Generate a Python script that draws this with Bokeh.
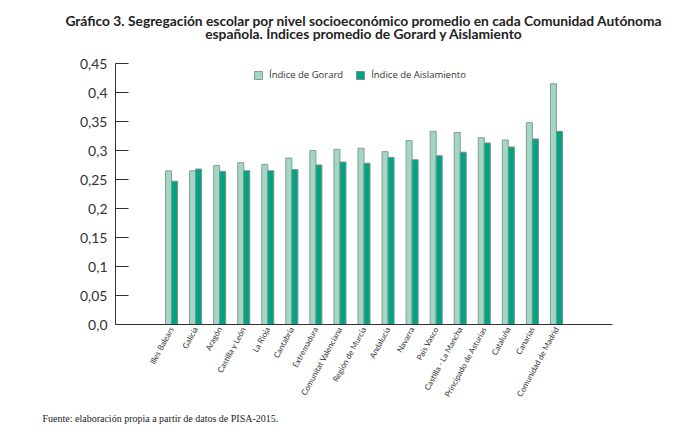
from bokeh.plotting import figure
from bokeh.models import ColumnDataSource, FactorRange, Range1d, Legend, LegendItem, FixedTicker, Title
from bokeh.transform import dodge
from bokeh.embed import file_html
from bokeh.resources import INLINE

regions = ["Illes Balears", "Galicia", "Aragón", "Castilla y León", "La Rioja", "Cantabria",
           "Extremadura", "Comunitat Valenciana", "Región de Murcia", "Andalucía", "Navarra",
           "País Vasco", "Castilla - La Mancha", "Principado de Asturias", "Cataluña",
           "Canarias", "Comunidad de Madrid"]
gorard = [0.265, 0.265, 0.274, 0.279, 0.276, 0.287, 0.300, 0.302, 0.304, 0.298, 0.317,
          0.333, 0.331, 0.322, 0.318, 0.348, 0.415]
aislamiento = [0.247, 0.268, 0.264, 0.265, 0.265, 0.267, 0.275, 0.280, 0.278, 0.288, 0.284,
               0.291, 0.297, 0.313, 0.306, 0.320, 0.333]
y_ticks = [0, 0.05, 0.1, 0.15, 0.2, 0.25, 0.3, 0.35, 0.4, 0.45]
y_tick_labels = ["0,0", "0,05", "0,1", "0,15", "0,2", "0,25", "0,3", "0,35", "0,4", "0,45"]
title_lines = ["Gráfico 3. Segregación escolar por nivel socioeconómico promedio en cada Comunidad Autónoma",
               "española. Índices promedio de Gorard y Aislamiento"]
source_note = "Fuente: elaboración propia a partir de datos de PISA-2015."

src = ColumnDataSource(data=dict(region=regions, gorard=gorard, aislamiento=aislamiento))

p = figure(width=682, height=438, output_backend="svg", toolbar_location=None, title=None,
           x_range=FactorRange(factors=regions, range_padding=1.83, range_padding_units="absolute"),
           y_range=Range1d(0, 0.45),
           min_border_left=115, min_border_right=70, min_border_top=63, min_border_bottom=114)
p.outline_line_color = None
p.xgrid.grid_line_color = None
p.ygrid.grid_line_color = None
p.background_fill_color = "white"
p.border_fill_color = "white"

r1 = p.vbar(x=dodge("region", -0.125, range=p.x_range), top="gorard", width=0.25, source=src,
            fill_color="#9fd9c6", line_color="#8a9a95", line_width=1)
r2 = p.vbar(x=dodge("region", 0.125, range=p.x_range), top="aislamiento", width=0.25, source=src,
            fill_color="#00a482", line_color="#7d8f89", line_width=1)

# y axis
ya = p.yaxis[0]
ya.ticker = FixedTicker(ticks=y_ticks)
ya.major_label_overrides = {t: l for t, l in zip(y_ticks, y_tick_labels)}
ya.major_tick_in = 13
ya.major_tick_out = 0
ya.minor_tick_line_color = None
ya.axis_line_color = "#333333"
ya.major_tick_line_color = "#333333"
ya.major_label_text_font = "Lato"
ya.major_label_text_font_size = "14px"
ya.major_label_text_color = "#333333"
ya.major_label_standoff = 8

# x axis
xa = p.xaxis[0]
xa.major_tick_in = 0
xa.major_tick_out = 0
xa.axis_line_color = "#333333"
xa.major_label_orientation = 1.07
xa.major_label_text_font = "Lato"
xa.major_label_text_font_size = "8px"
xa.major_label_text_color = "#333333"
xa.major_label_standoff = 3

legend = Legend(items=[LegendItem(label="Índice de Gorard", renderers=[r1]),
                       LegendItem(label="Índice de Aislamiento", renderers=[r2])],
                orientation="horizontal", location=(138, 243),
                border_line_color=None, background_fill_alpha=0,
                padding=0, margin=0, spacing=12, label_standoff=6,
                glyph_width=10, glyph_height=10,
                label_text_font="Open Sans", label_text_font_size="9.5px",
                label_text_color="#333333")
p.add_layout(legend, "center")

# invisible spacer between the frame and the title
spacer = Title(text=" ", text_font_size="1px", standoff=18, text_color="white")
p.add_layout(spacer, "above")

title = Title(text="\n".join(title_lines), align="center", vertical_align="bottom",
              text_font="Lato", text_font_style="bold",
              text_font_size="13.8px", text_color="#222222", standoff=0, offset=0,
              text_line_height=0.8)
if "text_align" in Title.properties():
    title.text_align = "center"
p.add_layout(title, "above")

fn = Title(text=source_note, align="left", text_font="Liberation Serif", text_font_style="normal",
           text_font_size="10px", text_color="#222222", offset=-73, standoff=13)
p.add_layout(fn, "below")

open("out.html", "w").write(file_html(p, INLINE))
